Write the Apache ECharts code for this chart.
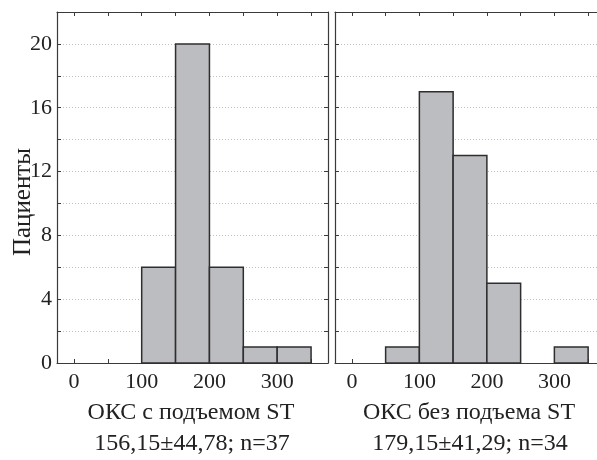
<!DOCTYPE html>
<html>
<head>
<meta charset="utf-8">
<script src="https://cdn.jsdelivr.net/npm/echarts@6/dist/echarts.min.js"></script>
<style>
  html, body { margin: 0; padding: 0; background: #fff; }
  #chart { width: 597px; height: 460px; }
</style>
</head>
<body>
<div id="chart"></div>
<script>
// histogram bins (start of each 50-wide bin)
const binStarts = [50, 100, 150, 200, 250, 300]
const binWidth = 50
const leftCounts = [0, 6, 20, 6, 1, 1]
const rightCounts = [1, 17, 13, 5, 0, 1]
const xTickLabels = [0, 100, 200, 300]
const xTicks = [0, 50, 100, 150, 200, 250, 300, 350]
const yLabels = [0, 4, 8, 12, 16, 20]
const yTitle = 'Пациенты'
const panelTitles = ['ОКС с подъемом ST', 'ОКС без подъема ST']
const panelStats = ['156,15±44,78; n=37', '179,15±41,29; n=34']

const font = "'Liberation Serif', 'Times New Roman', serif"
const frame = '#3a3a3a'

const chart = echarts.init(document.getElementById('chart'))

function xAxes(gridIndex) {
  const base = {
    gridIndex, type: 'value', min: -25, max: 375,
    axisLine: { show: true, onZero: false, lineStyle: { color: frame, width: 1.2 } },
    axisTick: { show: true, inside: true, length: 4, customValues: xTicks, lineStyle: { color: frame } },
    splitLine: { show: false }
  }
  return [
    Object.assign({}, base, {
      position: 'bottom',
      axisLabel: { show: true, customValues: xTickLabels, margin: 8, fontFamily: font, fontSize: 22, color: '#222' }
    }),
    Object.assign({}, base, { position: 'top', axisLabel: { show: false } })
  ]
}

function yAxes(gridIndex, withLabels) {
  const base = {
    gridIndex, type: 'value', min: 0, max: 22, interval: 2,
    axisLine: { show: true, onZero: false, lineStyle: { color: frame, width: 1.2 } },
    axisTick: { show: true, inside: true, length: 4, lineStyle: { color: frame } }
  }
  return [
    Object.assign({}, base, {
      position: 'left',
      splitLine: { show: true, lineStyle: { color: '#c0c0c0', type: [1, 2], width: 1 } },
      axisLabel: withLabels
        ? { show: true, customValues: yLabels, margin: 5, fontFamily: font, fontSize: 22, color: '#222' }
        : { show: false }
    }),
    Object.assign({}, base, { position: 'right', splitLine: { show: false }, axisLabel: { show: false } })
  ]
}

function histSeries(counts, axisIdx) {
  return {
    type: 'custom',
    xAxisIndex: axisIdx, yAxisIndex: axisIdx,
    data: binStarts.map((s, i) => [s, s + binWidth, counts[i]]).filter(d => d[2] > 0),
    renderItem: function (params, api) {
      const p0 = api.coord([api.value(0), 0])
      const p1 = api.coord([api.value(1), api.value(2)])
      return {
        type: 'rect',
        shape: { x: p0[0], y: p1[1], width: p1[0] - p0[0], height: p0[1] - p1[1] },
        style: { fill: '#bcbdc1', stroke: '#2e2e2e', lineWidth: 1.5 }
      }
    }
  }
}

const textStyle = (t, size) => ({ text: t, fontFamily: font, fontSize: size, fill: '#222', align: 'center', verticalAlign: 'middle' })

chart.setOption({
  animation: false,
  grid: [
    { left: 57, top: 12, width: 271, height: 351, outerBoundsMode: 'none', containLabel: false },
    { left: 335, top: 12, width: 270, height: 351, outerBoundsMode: 'none', containLabel: false }
  ],
  xAxis: [...xAxes(0), ...xAxes(1)],
  yAxis: [...yAxes(0, true), ...yAxes(1, false)],
  series: [histSeries(leftCounts, 0), histSeries(rightCounts, 2)],
  graphic: [
    { type: 'text', x: 23, y: 202, rotation: Math.PI / 2, style: textStyle(yTitle, 25) },
    ...panelTitles.map((t, i) => ({ type: 'text', x: i === 0 ? 191 : 469, y: 413, style: textStyle(t, 24) })),
    ...panelStats.map((t, i) => ({ type: 'text', x: i === 0 ? 192 : 470, y: 444, style: textStyle(t, 24) }))
  ]
})
</script>
</body>
</html>
